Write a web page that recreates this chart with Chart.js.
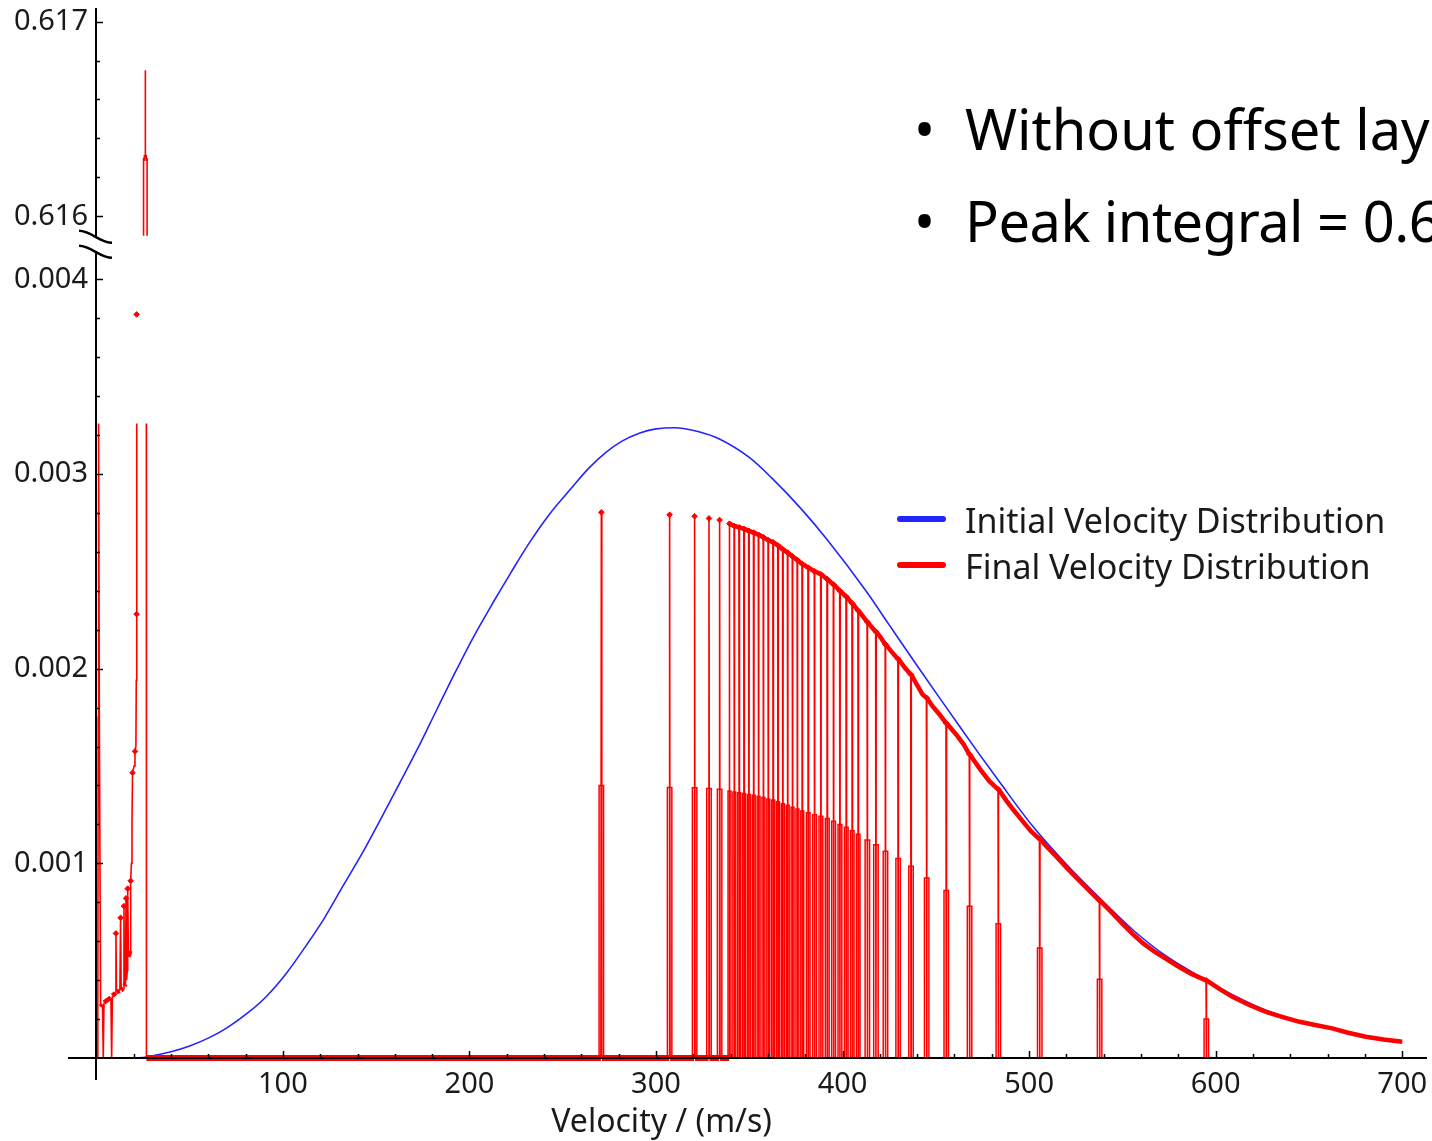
<!DOCTYPE html>
<html>
<head>
<meta charset="utf-8">
<script src="https://cdn.jsdelivr.net/npm/chart.js@4.4.1/dist/chart.umd.min.js"></script>
<style>
  html, body { margin: 0; padding: 0; background: #fff; }
  #wrap { position: relative; width: 1432px; height: 1141px; overflow: hidden; }
  #bar { position: absolute; left: 0; top: 0; }
  .note { position: absolute; font-family: "Noto Sans", sans-serif; font-size: 56px; line-height: 1; color: #000; white-space: nowrap; }
  .leg { position: absolute; left: 897px; font-family: "Noto Sans", sans-serif; font-size: 34px; line-height: 1; color: #1a1a1a; white-space: nowrap; }
  .leg i { position: absolute; left: 0; width: 49px; height: 6px; border-radius: 3px; }
  .leg span { position: absolute; left: 68px; top: 0; }
</style>
</head>
<body>
<div id="wrap">
  <canvas id="bar" width="1432" height="1141"></canvas>
  <div class="note" style="left:914px; top:100px">•</div>
  <div class="note" style="left:965px; top:100px">Without offset lay</div>
  <div class="note" style="left:914px; top:192px">•</div>
  <div class="note" style="left:965px; top:192px; letter-spacing:-0.5px">Peak integral = 0.6</div>
  <div id="legend"></div>
</div>
<script>
// initial distribution (blue)
var blueV = [20, 27, 32, 40, 50, 60, 70, 82, 91, 102, 113, 122, 132, 143, 152, 163, 172, 182, 191, 202,
    213, 222, 232, 243, 254, 264, 273, 282, 291, 300, 310, 323, 334, 350, 362, 377, 392, 413, 425, 440,
    452, 463, 473, 484, 502, 520, 538, 556, 574, 595, 609, 627, 645, 663, 681, 700];
var blueP = [0, 0.000005, 0.000015, 0.000032, 0.000062, 0.000102, 0.000155, 0.000238, 0.000315, 0.000437,
    0.000585, 0.000715, 0.00088, 0.00106, 0.00122, 0.00142, 0.001585, 0.00178, 0.001955, 0.00216,
    0.002345, 0.00249, 0.002645, 0.002795, 0.00292, 0.00303, 0.00311, 0.00317, 0.00321, 0.003232,
    0.003238, 0.003217, 0.00318, 0.003085, 0.00298, 0.00283, 0.00266, 0.002394, 0.002225, 0.002015,
    0.00185, 0.0017, 0.001565, 0.00142, 0.00119, 0.000995, 0.00082, 0.000655, 0.00052, 0.0004,
    0.000325, 0.000245, 0.00019, 0.00015, 0.00011, 0.000083];

// final distribution (red): low velocity cluster, null = gap in the line
var leftV = [0.7, 0.8, 1.0, 1.2, 1.6, 2.3, 2.6, 3.3, 3.7, 4.1, 5.5, 7.0, 7.8, 8.2, 8.6, 9.8, 10.3, 10.5, 10.8, 12.6,
    13.0, 13.3, 14.5, 14.8, 15.1, 15.6, 15.9, 16.2, 16.6, 16.8, 17.2, 18.2, 18.4, 18.8, 19.1, 19.4, 20.2, 20.7, 21.2, 21.4,
    21.6, 21.7, 21.7, 25.3, 25.3, 26.2, 26.25, 26.3, 27.2, 27.2, 27.2, 26.8, 26.85];
var leftP = [0, 0.00026, 0.00175, 0.00326, 0.00175, 0.000264, 0.000268, 0.000275, 0, 0.000285,
    0.000295, 0.000305, 0.00031, 0, 0.00032, 0.00033, 0.000335, 0.00064, 0.00034, 0.000345,
    0.00072, 0.00035, 0.000355, 0.00078, 0.00037, 0.00038, 0.00082, 0.0004, 0.00045, 0.00087,
    0.00052, 0.00055, 0.00091, 0.001, 0.0012, 0.001465, 0.0015, 0.001575, 0.0016, 0.00194,
    0.00228, 0.00326, null, 0.6159, 0.6163, 0.6163, 0.61675, 0.6163, 0.6163, 0.6159, null, 0.00326, 0];
var markV = [10.5, 13.0, 14.8, 15.9, 16.8, 18.4, 19.4, 20.7, 21.6, 21.6];
var markP = [0.00064, 0.00072, 0.00078, 0.00082, 0.00087, 0.00091, 0.001465, 0.001575, 0.00228, 0.00382];

// spikes: position, top value, height of the narrow stub at the bottom
var dropsFrom = 339;
var spikeV = [270.7, 307.3, 320.7, 328.4, 334.1,
    339.4, 342.0, 344.6, 347.2, 349.8, 352.4, 355.0, 357.6, 360.2, 362.8, 365.4, 368.0, 370.6, 373.2, 375.8, 378.4,
    381.6, 385.0, 388.4, 391.8, 395.2, 398.6, 402.0, 405.2, 408.4,
    413.3, 417.9, 423.0, 429.8, 436.7, 445.1, 455.6, 468.1, 483.5, 505.7, 537.8, 595.0];
var spikeTop = [0.002803, 0.002791, 0.002783, 0.002772, 0.002764,
    0.002745, 0.002733, 0.002726, 0.002718, 0.002708, 0.002699, 0.002688, 0.002675, 0.00266, 0.002649,
    0.002633, 0.002613, 0.002596, 0.002577, 0.002558, 0.002538,
    0.002519, 0.0025, 0.002485, 0.00246, 0.002432, 0.0024, 0.00237, 0.002335, 0.002298,
    0.00224, 0.00219, 0.002125, 0.00205, 0.00197, 0.00185, 0.00172, 0.00156, 0.00138, 0.001125, 0.000808, 0.000399];
var stubTop = [0.0014, 0.00139, 0.001388, 0.001385, 0.00138,
    0.001372, 0.001366, 0.001363, 0.001359, 0.001354, 0.00135, 0.001344, 0.001338, 0.00133, 0.001325,
    0.001317, 0.001306, 0.001298, 0.001288, 0.001279, 0.001269,
    0.00126, 0.00125, 0.001242, 0.00123, 0.001216, 0.0012, 0.001185, 0.001167, 0.001149,
    0.00112, 0.001095, 0.001062, 0.001025, 0.000985, 0.000925, 0.00086, 0.00078, 0.00069, 0.000565, 0.000404, 0.0002];

// upper envelope of the red curve where the drops are sparse
var envV = [410, 415.5, 420.5, 426, 433, 440, 442.9, 448, 452, 460.9, 465, 470, 474, 478.7, 488, 492, 496.5, 501, 509, 514,
    520, 526, 532, 544, 550, 555.5, 561, 567, 573.4, 580, 587, 602, 609, 618, 627, 636, 645, 654, 662.5, 671,
    680.5, 690, 700];
var envP = [0.00228, 0.002215, 0.00216, 0.00209, 0.00201, 0.001915, 0.001867, 0.00181, 0.001765, 0.001662,
    0.00161, 0.001535, 0.00148, 0.001422, 0.00132, 0.00127, 0.001217, 0.001165, 0.00109, 0.00104,
    0.000979, 0.00092, 0.000862, 0.00075, 0.00069, 0.000638, 0.00059, 0.000548, 0.00051, 0.00047,
    0.000432, 0.000355, 0.000314, 0.000272, 0.000237, 0.00021, 0.000186, 0.000168, 0.000152, 0.00013,
    0.000109, 0.000095, 0.000083];

var xTicks = [100, 200, 300, 400, 500, 600, 700];
var xTickLabels = ['100', '200', '300', '400', '500', '600', '700'];
var yTicks = [0.001, 0.002, 0.003, 0.004, 0.616, 0.617];
var yTickLabels = ['0.001', '0.002', '0.003', '0.004', '0.616', '0.617'];

// broken y axis: the part between lowMax and highMin is cut out
var lowMax = 0.00418, highMin = 0.615856;
function fold(v) {
    if (v <= lowMax) return v;
    if (v >= highMin) return v - (highMin - lowMax);
    return lowMax;
}
function unfold(v) {
    return v > lowMax ? v + (highMin - lowMax) : v;
}
class BrokenScale extends Chart.LinearScale {
    configure() {
        super.configure();
        this._startValue = fold(this.min);
        this._endValue = fold(this.max);
        this._valueRange = this._endValue - this._startValue;
    }
    getPixelForValue(value) {
        return super.getPixelForValue(value === null ? null : fold(value));
    }
    getValueForPixel(pixel) {
        return unfold(super.getValueForPixel(pixel));
    }
}
BrokenScale.id = 'broken';
BrokenScale.defaults = Chart.LinearScale.defaults;
Chart.register(BrokenScale);

// build the red line
var finePts = [];
leftV.forEach(function (v, i) { finePts.push({x: v, y: leftP[i]}); });
var e = 0, firstDrop = true;
spikeV.forEach(function (v, i) {
    var top = spikeTop[i];
    if (v < dropsFrom) {
        finePts.push({x: v - 0.25, y: 0}, {x: v, y: top}, {x: v + 0.25, y: 0});
    } else {
        if (firstDrop) { finePts.push({x: v - 0.2, y: 0}); firstDrop = false; }
        while (e < envV.length && envV[e] < v) { finePts.push({x: envV[e], y: envP[e]}); e++; }
        finePts.push({x: v - 0.15, y: top}, {x: v, y: 0}, {x: v + 0.15, y: top});
    }
});
while (e < envV.length) { finePts.push({x: envV[e], y: envP[e]}); e++; }

var stubPts = [];
spikeV.forEach(function (v, i) {
    var gap = Math.min(i > 0 ? v - spikeV[i - 1] : 99, i < spikeV.length - 1 ? spikeV[i + 1] - v : 99);
    var w = Math.min(1.2, 0.3 * gap);
    stubPts.push({x: v - w, y: 0}, {x: v - w, y: stubTop[i]}, {x: v + w, y: stubTop[i]},
        {x: v + w, y: 0}, {x: v + w, y: null});
});

var markPts = [];
markV.forEach(function (v, i) { markPts.push({x: v, y: markP[i]}); });
spikeV.forEach(function (v, i) { markPts.push({x: v, y: spikeTop[i]}); });

var bluePts = blueV.map(function (v, i) { return {x: v, y: blueP[i]}; });

var axesPlugin = {
    id: 'mathAxes',
    afterDatasetsDraw: function (chart) {
        var ctx = chart.ctx, a = chart.chartArea, xs = chart.scales.x, ys = chart.scales.y;
        var x0 = Math.round(xs.getPixelForValue(0));
        var y0 = Math.round(ys.getPixelForValue(0));
        var yb = ys.getPixelForValue(lowMax);
        ctx.save();
        ctx.strokeStyle = '#000';
        ctx.lineWidth = 2;
        ctx.beginPath();
        ctx.moveTo(a.left, y0); ctx.lineTo(a.right, y0);
        ctx.moveTo(x0, a.top); ctx.lineTo(x0, yb - 8);
        ctx.moveTo(x0, yb + 7); ctx.lineTo(x0, a.bottom);
        ctx.stroke();
        // break marks
        ctx.lineWidth = 2.5;
        [-7.5, 7.5].forEach(function (k) {
            var cy = yb + k;
            ctx.beginPath();
            ctx.moveTo(x0 - 17, cy - 6);
            ctx.bezierCurveTo(x0 - 5, cy - 6, x0 + 4, cy + 6, x0 + 16, cy + 6);
            ctx.stroke();
        });
        // ticks
        ctx.lineWidth = 1.5;
        ctx.beginPath();
        for (var v = 20; v <= 700; v += 20) {
            var px = Math.round(xs.getPixelForValue(v)) + 0.5;
            var len = v % 100 === 0 ? 7 : 4;
            ctx.moveTo(px, y0); ctx.lineTo(px, y0 - len);
        }
        for (var k = 1; k <= 20; k++) {
            var py = Math.round(ys.getPixelForValue(k * 0.0002)) + 0.5;
            ctx.moveTo(x0, py); ctx.lineTo(x0 + (k % 5 === 0 ? 7 : 4), py);
        }
        for (var k = 0; k <= 5; k++) {
            var py = Math.round(ys.getPixelForValue(0.616 + k * 0.0002)) + 0.5;
            ctx.moveTo(x0, py); ctx.lineTo(x0 + (k % 5 === 0 ? 7 : 4), py);
        }
        ctx.stroke();
        // labels
        ctx.fillStyle = '#1a1a1a';
        ctx.font = '29px "Noto Sans"';
        ctx.textAlign = 'center';
        ctx.textBaseline = 'middle';
        xTicks.forEach(function (v, i) {
            ctx.fillText(xTickLabels[i], xs.getPixelForValue(v), y0 + 27);
        });
        ctx.textAlign = 'right';
        yTicks.forEach(function (v, i) {
            ctx.fillText(yTickLabels[i], x0 - 8, ys.getPixelForValue(v));
        });
        ctx.font = '32px "Noto Sans"';
        ctx.textAlign = 'center';
        ctx.fillText('Velocity / (m/s)', xs.getPixelForValue(303), 1123);
        ctx.restore();
    }
};

function segWidth(c) {
    var dx = Math.abs(c.p1.x - c.p0.x), dy = Math.abs(c.p1.y - c.p0.y);
    if (dy > 3 * dx + 2) return 1.6;
    return dy < 0.5 ? 6 : 4.5;
}

var ctx = document.getElementById('bar').getContext('2d');
var myChart = new Chart(ctx, {
    type: 'line',
    data: {
        datasets: [{
            label: 'Initial Velocity Distribution',
            data: bluePts,
            borderColor: '#2424ff',
            borderWidth: 1.6,
            pointRadius: 0,
            cubicInterpolationMode: 'monotone',
            order: 3
        }, {
            label: 'Final Velocity Distribution',
            data: finePts,
            borderColor: '#ff0000',
            borderWidth: 1.6,
            pointRadius: 0,
            segment: { borderWidth: segWidth },
            order: 1
        }, {
            label: 'stubs',
            data: stubPts,
            borderColor: '#ff0000',
            borderWidth: 1.5,
            pointRadius: 0,
            order: 1
        }, {
            label: 'markers',
            data: markPts,
            showLine: false,
            pointStyle: 'rectRot',
            pointRadius: 2.8,
            pointBackgroundColor: '#ff0000',
            pointBorderColor: '#ff0000',
            pointBorderWidth: 1,
            order: 0
        }]
    },
    options: {
        responsive: false,
        animation: false,
        devicePixelRatio: 1,
        layout: { padding: { left: 68, right: 4, top: 8, bottom: 61 } },
        plugins: { legend: { display: false }, tooltip: { enabled: false } },
        scales: {
            x: { type: 'linear', min: -15.2, max: 713.3, display: false },
            y: { type: 'broken', min: -0.000113, max: 0.61707, display: false }
        }
    },
    plugins: [axesPlugin]
});

// legend for the two real series
var legend = document.getElementById('legend');
[0, 1].forEach(function (i) {
    var ds = myChart.data.datasets[i];
    var row = document.createElement('div');
    row.className = 'leg';
    row.style.top = (503 + i * 46) + 'px';
    row.innerHTML = '<i style="top:13px;background:' + ds.borderColor + '"></i><span>' + ds.label + '</span>';
    legend.appendChild(row);
});
</script>
</body>
</html>
